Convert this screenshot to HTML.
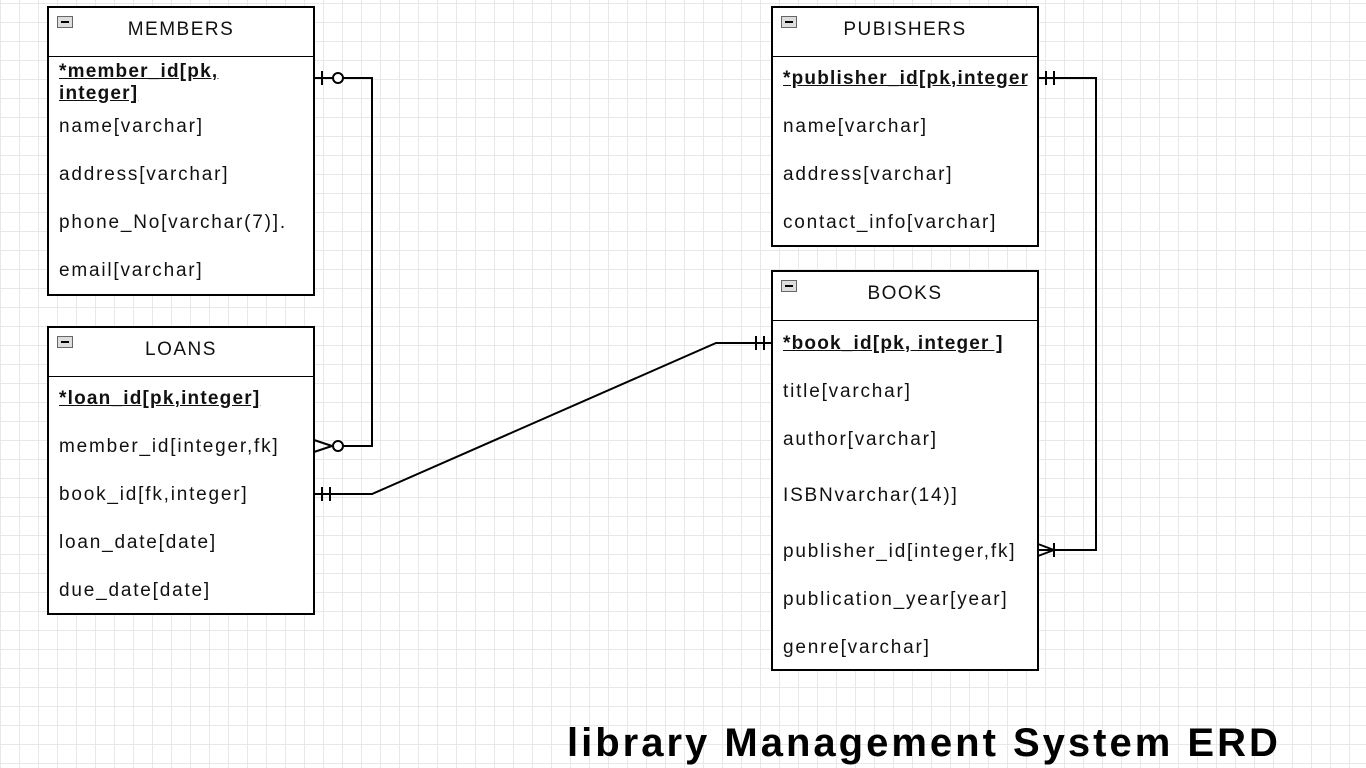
<!DOCTYPE html>
<html><head><meta charset="utf-8"><style>
body{margin:0;width:1366px;height:768px;overflow:hidden;background:#fff;
background-image:linear-gradient(#e8e8e8 1px,transparent 1px),linear-gradient(90deg,#e8e8e8 1px,transparent 1px);
background-size:19px 19px;background-position:0 3px;font-family:"Liberation Sans",sans-serif;position:relative}
.t{position:absolute;border:2px solid #000;background:#fff;box-sizing:border-box}
.h{height:48px;border-bottom:1px solid #000;text-align:center;line-height:44px;font-size:19px;letter-spacing:1.5px;color:#111;position:relative}
.h i{position:absolute;left:8px;top:8px;width:14px;height:10px;border:1px solid #666;background:#ddd}
.h i:after{content:"";position:absolute;left:3px;top:4px;width:8px;height:2px;background:#000}
.r{position:absolute;left:10px;font-size:19px;letter-spacing:1.8px;color:#111;white-space:nowrap}
.pk{font-weight:bold;text-decoration:underline;letter-spacing:1.2px}
.title{position:absolute;left:567px;top:721px;font-size:40px;letter-spacing:3px;font-weight:bold;color:#000;white-space:nowrap}
</style></head><body>
<svg width="1366" height="768" style="position:absolute;left:0;top:0" fill="none" stroke="#000" stroke-width="2">
<polyline points="314,78 372,78 372,446 344,446"/>
<line x1="322" y1="71" x2="322" y2="85"/><circle cx="338" cy="78" r="5" fill="#fff"/>
<line x1="314" y1="440" x2="332" y2="446"/><line x1="314" y1="452" x2="332" y2="446"/><circle cx="338" cy="446" r="5" fill="#fff"/>
<polyline points="314,494 372,494 716,343 772,343"/>
<line x1="322" y1="487" x2="322" y2="501"/><line x1="330" y1="487" x2="330" y2="501"/>
<line x1="756" y1="336" x2="756" y2="350"/><line x1="764" y1="336" x2="764" y2="350"/>
<polyline points="1038,78 1096,78 1096,550 1038,550"/>
<line x1="1046" y1="71" x2="1046" y2="85"/><line x1="1054" y1="71" x2="1054" y2="85"/>
<line x1="1038" y1="544" x2="1054" y2="550"/><line x1="1038" y1="556" x2="1054" y2="550"/><line x1="1054" y1="543" x2="1054" y2="557"/>
</svg>
<div class="t" style="left:47px;top:6px;width:268px;height:290px"><div class="h"><i></i>MEMBERS</div>
<div class="r pk" style="top:53px;line-height:22px">*member_id[pk,<br>integer]</div>
<div class="r" style="top:108px">name[varchar]</div>
<div class="r" style="top:156px">address[varchar]</div>
<div class="r" style="top:204px">phone_No[varchar(7)].</div>
<div class="r" style="top:252px">email[varchar]</div></div>
<div class="t" style="left:47px;top:326px;width:268px;height:289px"><div class="h"><i></i>LOANS</div>
<div class="r pk" style="top:60px">*loan_id[pk,integer]</div>
<div class="r" style="top:108px">member_id[integer,fk]</div>
<div class="r" style="top:156px">book_id[fk,integer]</div>
<div class="r" style="top:204px">loan_date[date]</div>
<div class="r" style="top:252px">due_date[date]</div></div>
<div class="t" style="left:771px;top:6px;width:268px;height:241px;overflow:hidden"><div class="h"><i></i>PUBISHERS</div>
<div class="r pk" style="top:60px;width:246px;overflow:hidden">*publisher_id[pk,integer]</div>
<div class="r" style="top:108px">name[varchar]</div>
<div class="r" style="top:156px">address[varchar]</div>
<div class="r" style="top:204px">contact_info[varchar]</div></div>
<div class="t" style="left:771px;top:270px;width:268px;height:401px"><div class="h"><i></i>BOOKS</div>
<div class="r pk" style="top:61px">*book_id[pk, integer ]</div>
<div class="r" style="top:109px">title[varchar]</div>
<div class="r" style="top:157px">author[varchar]</div>
<div class="r" style="top:213px">ISBNvarchar(14)]</div>
<div class="r" style="top:269px">publisher_id[integer,fk]</div>
<div class="r" style="top:317px">publication_year[year]</div>
<div class="r" style="top:365px">genre[varchar]</div></div>
<div class="title">library Management System ERD</div>
</body></html>
